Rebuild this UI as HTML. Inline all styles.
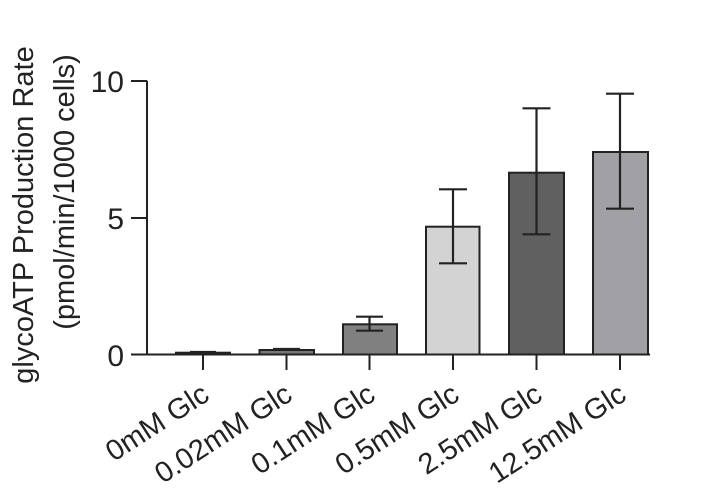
<!DOCTYPE html>
<html><head><style>body{margin:0;background:#fff}svg{display:block}</style></head><body>
<svg width="714" height="498" xmlns="http://www.w3.org/2000/svg" font-family="Liberation Sans, Arial, sans-serif">
<rect width="714" height="498" fill="#fff"/>
<g stroke="#222" stroke-width="2" fill="none">
<line x1="147" y1="80.7" x2="147" y2="355"/>
<line x1="131" y1="81" x2="147" y2="81"/>
<line x1="131" y1="218" x2="147" y2="218"/>
<line x1="131" y1="354.5" x2="650" y2="354.5"/>
<g>
<line x1="203" y1="355" x2="203" y2="370"/><line x1="286.5" y1="355" x2="286.5" y2="370"/>
<line x1="369.5" y1="355" x2="369.5" y2="370"/><line x1="453" y1="355" x2="453" y2="370"/>
<line x1="536.5" y1="355" x2="536.5" y2="370"/><line x1="620" y1="355" x2="620" y2="370"/>
</g>
</g>
<g stroke="#222" stroke-width="2">
<rect x="176" y="352.7" width="54" height="1.8" fill="#555"/>
<rect x="259.5" y="350" width="54.5" height="4.5" fill="#777"/>
<rect x="343" y="324.3" width="54" height="30.2" fill="#808080"/>
<rect x="426" y="226.7" width="53.5" height="127.8" fill="#d3d3d3"/>
<rect x="509" y="172.7" width="55" height="181.8" fill="#606060"/>
<rect x="593" y="152" width="55" height="202.5" fill="#a1a1a5"/>
</g>
<g stroke="#222" stroke-width="2.2" fill="none">
<path d="M190 352h26 M273 349h27"/>
<path d="M369.5 316.7V330.7 M356 316.7h27 M356 330.7h27"/>
<path d="M453 189.3V263.3 M439 189.3h28 M439 263.3h28"/>
<path d="M536.5 108.3V234.3 M522.5 108.3h28 M522.5 234.3h28"/>
<path d="M620 93.7V208.7 M606 93.7h28 M606 208.7h28"/>
</g>
<g font-size="30" fill="#222" text-anchor="end">
<text x="124" y="92">10</text>
<text x="124" y="229">5</text>
<text x="124" y="366">0</text>
</g>
<g font-size="29" fill="#222" text-anchor="middle">
<text transform="translate(33,215) rotate(-90)">glycoATP Production Rate</text>
<text transform="translate(74,192) rotate(-90)">(pmol/min/1000 cells)</text>
</g>
<g font-size="29" fill="#222" text-anchor="end">
<text transform="translate(211,399) rotate(-33)">0mM Glc</text>
<text transform="translate(294,399) rotate(-33)">0.02mM Glc</text>
<text transform="translate(377,399) rotate(-33)">0.1mM Glc</text>
<text transform="translate(461,399) rotate(-33)">0.5mM Glc</text>
<text transform="translate(544,399) rotate(-33)">2.5mM Glc</text>
<text transform="translate(628,399) rotate(-33)">12.5mM Glc</text>
</g>
</svg>
</body></html>
